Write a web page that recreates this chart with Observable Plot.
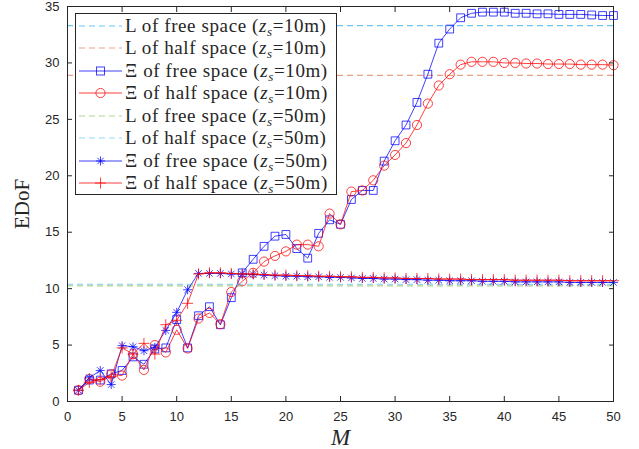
<!DOCTYPE html>
<html><head><meta charset="utf-8">
<script src="https://cdn.jsdelivr.net/npm/d3@7"></script>
<script src="https://cdn.jsdelivr.net/npm/@observablehq/plot@0.6"></script>
<style>
body{margin:0;background:#fff;}
#wrap{position:relative;width:639px;height:449px;}
#legend{position:absolute;left:75px;top:13px;width:262px;height:182px;background:#fff;border:1px solid #262626;box-sizing:border-box;font-family:"Liberation Serif",serif;font-size:19px;letter-spacing:0.6px;color:#262626;}
.row{position:absolute;left:0;height:22px;display:flex;align-items:center;white-space:nowrap;}
.row svg{display:block;}
.row span{margin-left:2px;}
sub{font-size:13px;vertical-align:-4px;line-height:0;}
</style>
</head><body>
<div id="wrap"><div id="chart"></div><div id="legend"></div></div>
<script>
const M = d3.range(1, 51);
const xTicks = [0, 5, 10, 15, 20, 25, 30, 35, 40, 45, 50];
const yTicks = [0, 5, 10, 15, 20, 25, 30, 35];

const Lfree10 = 33.3;
const Lhalf10 = 28.9;
const Lfree50 = 10.24;
const Lhalf50 = 10.37;

const xiFree10 = [1.0,1.9,1.9,2.45,2.75,3.95,3.3,4.65,4.75,7.25,
  4.75,7.6,8.4,6.8,9.2,11.4,12.6,13.75,14.65,14.8,
  13.55,12.7,14.9,16.1,15.7,17.9,18.7,18.7,21.3,23.1,
  24.5,26.5,29.0,31.75,33.0,34.0,34.4,34.5,34.5,34.5,
  34.4,34.4,34.35,34.35,34.3,34.3,34.3,34.25,34.2,34.2];
const xiHalf10 = [1.0,2.0,1.75,2.4,2.3,4.2,2.8,5.0,4.35,6.35,
  4.7,7.35,7.85,6.85,9.7,10.65,11.4,12.4,12.9,13.3,
  13.9,13.9,13.75,16.65,15.7,18.6,18.7,19.6,20.9,21.85,
  22.9,24.5,26.4,28.0,29.0,29.85,30.1,30.1,30.1,30.0,
  30.0,29.95,29.95,29.9,29.9,29.9,29.85,29.85,29.85,29.8];
const xiFree50 = [1.0,2.1,2.75,1.5,4.95,4.85,4.5,4.8,6.3,7.9,
  9.9,11.35,11.35,11.35,11.3,11.3,11.25,11.2,11.15,11.1,
  11.1,11.05,11.05,11.0,11.0,10.95,10.9,10.9,10.85,10.85,
  10.8,10.8,10.75,10.75,10.7,10.7,10.7,10.65,10.65,10.65,
  10.6,10.6,10.6,10.6,10.6,10.55,10.55,10.55,10.55,10.55];
const xiHalf50 = [1.0,1.7,1.95,2.2,4.75,4.2,5.15,4.2,6.8,7.2,
  8.7,11.3,11.4,11.4,11.35,11.3,11.3,11.25,11.2,11.2,
  11.15,11.15,11.1,11.1,11.05,11.05,11.0,11.0,10.95,10.95,
  10.9,10.9,10.9,10.85,10.85,10.85,10.8,10.8,10.8,10.8,
  10.75,10.75,10.75,10.75,10.75,10.7,10.7,10.7,10.7,10.7];

const cLfree10 = "#4DBEEE", cLhalf10 = "#D95319", cLfree50 = "#77AC30", cLhalf50 = "#4DBEEE";
const blue = "#0000FF", red = "#FF0000";

const plusSym = {draw(ctx, size){ const r = Math.sqrt(size/Math.PI); ctx.moveTo(-r,0); ctx.lineTo(r,0); ctx.moveTo(0,-r); ctx.lineTo(0,r); }};
const starSym = {draw(ctx, size){ const r = Math.sqrt(size/Math.PI); const d = r*0.72;
  ctx.moveTo(-r,0); ctx.lineTo(r,0); ctx.moveTo(0,-r); ctx.lineTo(0,r);
  ctx.moveTo(-d,-d); ctx.lineTo(d,d); ctx.moveTo(-d,d); ctx.lineTo(d,-d); }};

const rows = (arr) => M.map((m, i) => ({M: m, v: arr[i]}));

function series(arr, color, symbol, r) {
  const d = rows(arr);
  return [
    Plot.line(d, {x: "M", y: "v", stroke: color, strokeWidth: 1, strokeOpacity: 0.75}),
    Plot.dot(d, {x: "M", y: "v", stroke: color, fill: "none", symbol, r, strokeWidth: 1, strokeOpacity: 0.75})
  ];
}
function lref(val, color, op) {
  return Plot.ruleY([val], {stroke: color, strokeOpacity: op, strokeDasharray: "6,4", strokeWidth: 1.2});
}

const W = 639, H = 449, mL = 67, mR = 26, mT = 6, mB = 48;
const chart = Plot.plot({
  width: W, height: H,
  marginLeft: mL, marginRight: mR, marginTop: mT, marginBottom: mB,
  x: {domain: [0, 50]},
  y: {domain: [0, 35]},
  style: {fontFamily: "'Liberation Sans', Arial, sans-serif", fontSize: "13px", color: "#262626", background: "#fff"},
  marks: [
    lref(Lfree10, cLfree10, 0.85),
    lref(Lhalf10, cLhalf10, 0.55),
    ...series(xiFree10, blue, "square", 4.4),
    ...series(xiHalf10, red, "circle", 4.6),
    lref(Lfree50, cLfree50, 0.55),
    lref(Lhalf50, cLhalf50, 0.6),
    ...series(xiFree50, blue, starSym, 4.5),
    ...series(xiHalf50, red, plusSym, 5.5),
    Plot.frame({stroke: "#262626", strokeWidth: 1}),
    Plot.axisX(xTicks, {anchor: "bottom", tickSize: -5, tickPadding: 15, label: null, stroke: "#262626"}),
    Plot.axisX(xTicks, {anchor: "top", tickSize: -5, tickFormat: () => "", label: null, stroke: "#262626"}),
    Plot.axisY(yTicks, {anchor: "left", tickSize: -5, tickPadding: 13, label: null, stroke: "#262626"}),
    Plot.axisY(yTicks, {anchor: "right", tickSize: -5, tickFormat: () => "", label: null, stroke: "#262626"}),
    Plot.text(["M"], {frameAnchor: "bottom", dy: 36, lineAnchor: "middle", fontFamily: "'Liberation Serif', serif", fontStyle: "italic", fontSize: 23, fill: "#262626"}),
    Plot.text(["EDoF"], {frameAnchor: "middle", dx: 22 - (mL + (W - mR)) / 2, rotate: -90, textAnchor: "middle", lineAnchor: "middle", fontFamily: "'Liberation Serif', serif", fontSize: 21, fill: "#262626"})
  ]
});
document.getElementById("chart").appendChild(chart);

// legend
const legendItems = [
  {name: "L", space: "free", z: "10", color: cLfree10, op: 0.85, dash: true},
  {name: "L", space: "half", z: "10", color: cLhalf10, op: 0.55, dash: true},
  {name: "Ξ", space: "free", z: "10", color: blue, op: 0.75, sym: "square"},
  {name: "Ξ", space: "half", z: "10", color: red, op: 0.75, sym: "circle"},
  {name: "L", space: "free", z: "50", color: cLfree50, op: 0.55, dash: true},
  {name: "L", space: "half", z: "50", color: cLhalf50, op: 0.6, dash: true},
  {name: "Ξ", space: "free", z: "50", color: blue, op: 0.75, sym: "star"},
  {name: "Ξ", space: "half", z: "50", color: red, op: 0.75, sym: "plus"}
];
const leg = document.getElementById("legend");
legendItems.forEach((it, i) => {
  const row = document.createElement("div");
  row.className = "row";
  row.style.top = (0.5 + 22.5 * i) + "px";
  let marker = "";
  const c = it.color;
  if (it.sym === "square") marker = `<rect x="20.5" y="7" width="8" height="8" fill="none" stroke="${c}"/>`;
  if (it.sym === "circle") marker = `<circle cx="24.5" cy="11" r="4.6" fill="none" stroke="${c}"/>`;
  if (it.sym === "star") marker = `<path d="M20 11H29M24.5 6.5V15.5M21.3 7.8L27.7 14.2M21.3 14.2L27.7 7.8" stroke="${c}"/>`;
  if (it.sym === "plus") marker = `<path d="M19 11H30M24.5 5.5V16.5" stroke="${c}"/>`;
  const line = `<line x1="3" x2="46" y1="11" y2="11" stroke="${c}" stroke-opacity="${it.op}" stroke-width="${it.dash ? 1.2 : 1}" ${it.dash ? 'stroke-dasharray="6,4"' : ''}/>`;
  row.innerHTML = `<svg width="47" height="22"><g stroke-opacity="${it.op}">${line}${marker}</g></svg><span>${it.name} of ${it.space} space (<i>z</i><sub><i>s</i></sub>=${it.z}m)</span>`;
  leg.appendChild(row);
});
</script>
</body></html>
